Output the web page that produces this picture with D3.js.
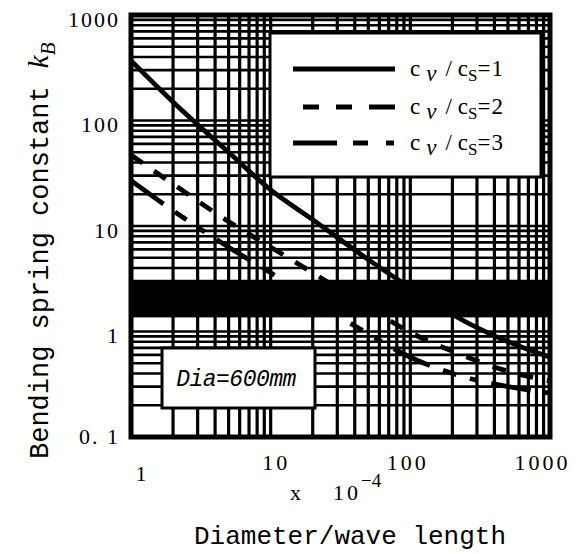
<!DOCTYPE html>
<html>
<head>
<meta charset="utf-8">
<script src="https://cdn.jsdelivr.net/npm/d3@7"></script>
<style>
  html, body { margin: 0; padding: 0; background: #fff; }
  svg { display: block; }
</style>
</head>
<body>
<svg id="chart" width="588" height="554"></svg>
<script>
// Diameter / wave length (x 10^-4) sampled along each curve
const ratioX = [1, 2, 5, 10, 20, 50, 100, 200, 500, 1000];

// Bending spring constant k_B for each velocity ratio cv/cs
const kB_ratio1 = [370, 150, 50, 22, 11.5, 4.8, 2.6, 1.45, 0.8, 0.57];
const kB_ratio2 = [47, 25, 11, 6.3, 3.6, 1.7, 0.98, 0.65, 0.42, 0.34];
const kB_ratio3 = [27, 14, 6.3, 3.6, 2.0, 0.95, 0.57, 0.4, 0.3, 0.26];

const seriesNames = ["1", "2", "3"];

// Axis ticks
const xTickValues = [1, 10, 100, 1000];
const xTickLabels = ["1", "10", "100", "1000"];
const yTickValues = [0.1, 1, 10, 100, 1000];
const yTickLabels = ["0. 1", "1", "10", "100", "1000"];

// Densely ruled band of the grid (k_B range)
const denseBand = [1.36, 2.95];

const svg = d3.select("#chart");
const plot = { left: 131, right: 550, top: 15, bottom: 437 };

const x = d3.scaleLog().domain([1, 1000]).range([plot.left, plot.right]);
const y = d3.scaleLog().domain([0.1, 1000]).range([plot.bottom, plot.top]);

svg.append("defs").append("clipPath").attr("id", "plotClip")
  .append("rect")
  .attr("x", plot.left).attr("y", plot.top)
  .attr("width", plot.right - plot.left).attr("height", plot.bottom - plot.top);

const body = svg.append("g").attr("clip-path", "url(#plotClip)");

// Log grid: every minor decade step
const gx = x.ticks().filter(v => v > 1 && v < 1000);
const gy = y.ticks().filter(v => v > 0.1 && v < 1000);

body.append("g").selectAll("line").data(gx).join("line")
  .attr("x1", d => x(d)).attr("x2", d => x(d))
  .attr("y1", plot.top).attr("y2", plot.bottom)
  .attr("stroke", "#000").attr("stroke-width", 3.2);

body.append("g").selectAll("line").data(gy).join("line")
  .attr("x1", plot.left).attr("x2", plot.right)
  .attr("y1", d => y(d)).attr("y2", d => y(d))
  .attr("stroke", "#000").attr("stroke-width", 2.6);

body.append("rect")
  .attr("x", plot.left).attr("width", plot.right - plot.left)
  .attr("y", y(denseBand[1])).attr("height", y(denseBand[0]) - y(denseBand[1]))
  .attr("fill", "#000");

// Curves
const line = d3.line()
  .x(d => x(d[0])).y(d => y(d[1]))
  .curve(d3.curveMonotoneX);

const series = [
  { name: seriesNames[0], values: kB_ratio1, dash: null },
  { name: seriesNames[1], values: kB_ratio2, dash: "14,14" },
  { name: seriesNames[2], values: kB_ratio3, dash: "40,14,14,14,8,14" }
];

series.forEach(s => {
  body.append("path")
    .datum(ratioX.map((v, i) => [v, s.values[i]]))
    .attr("d", line)
    .attr("fill", "none")
    .attr("stroke", "#000")
    .attr("stroke-width", 4.8)
    .attr("stroke-dasharray", s.dash);
});

// Frame
svg.append("rect")
  .attr("x", plot.left).attr("y", plot.top)
  .attr("width", plot.right - plot.left).attr("height", plot.bottom - plot.top)
  .attr("fill", "none").attr("stroke", "#000").attr("stroke-width", 5);

// Legend box
const legend = svg.append("g");
legend.append("rect")
  .attr("x", 270).attr("y", 33).attr("width", 271).attr("height", 144)
  .attr("fill", "#fff").attr("stroke", "#000").attr("stroke-width", 3);

const legendRows = [69, 107, 143];
const legendDash = [null, "0,10,16,17,16,17,16", "44,16,15,18,8"];
series.forEach((s, i) => {
  const yy = legendRows[i];
  legend.append("line")
    .attr("x1", 293).attr("x2", 395).attr("y1", yy).attr("y2", yy)
    .attr("stroke", "#000").attr("stroke-width", 4.8)
    .attr("stroke-dasharray", legendDash[i]);
  const t = legend.append("text")
    .attr("x", 410).attr("y", yy + 7)
    .attr("font-family", "'Liberation Serif', serif")
    .attr("font-size", 23)
    .attr("fill", "#000");
  t.append("tspan").text("c");
  t.append("tspan").attr("dx", 6).attr("dy", 5).attr("font-style", "italic").text("ν");
  t.append("tspan").attr("dx", 9).attr("dy", -5).text("/");
  t.append("tspan").attr("dx", 6).text("c");
  t.append("tspan").attr("dy", 5).attr("font-size", 17).text("S");
  t.append("tspan").attr("dy", -5).attr("letter-spacing", 1).text("=" + s.name);
});

// Diameter annotation box
const note = svg.append("g");
note.append("rect")
  .attr("x", 162).attr("y", 348).attr("width", 153).attr("height", 60)
  .attr("fill", "#fff").attr("stroke", "#000").attr("stroke-width", 3);
note.append("text")
  .attr("x", 236).attr("y", 386)
  .attr("text-anchor", "middle")
  .attr("font-family", "'Liberation Mono', monospace")
  .attr("font-style", "italic")
  .attr("font-size", 23)
  .attr("letter-spacing", -0.5)
  .text("Dia=600mm");

// Axes
const xAxis = d3.axisBottom(x).tickValues(xTickValues)
  .tickFormat((d, i) => xTickLabels[i]).tickSize(0).tickPadding(0);
const xg = svg.append("g").attr("transform", `translate(0,${plot.bottom})`).call(xAxis);
xg.select(".domain").remove();
xg.selectAll("text")
  .attr("font-family", "'Liberation Serif', serif")
  .attr("font-size", 22)
  .attr("letter-spacing", 3)
  .attr("fill", "#000")
  .attr("dy", (d, i) => i === 0 ? 44 : 33)
  .attr("dx", (d, i) => [11, 5, -3, -8][i]);

const yAxis = d3.axisLeft(y).tickValues(yTickValues)
  .tickFormat((d, i) => yTickLabels[i]).tickSize(0).tickPadding(11);
const yg = svg.append("g").attr("transform", `translate(${plot.left},0)`).call(yAxis);
yg.select(".domain").remove();
yg.selectAll("text")
  .attr("font-family", "'Liberation Serif', serif")
  .attr("font-size", 22)
  .attr("letter-spacing", 2)
  .attr("fill", "#000")
  .attr("dy", (d, i) => i === 0 ? "0.3em" : "0.5em");

// Axis titles
const scaleNote = svg.append("text")
  .attr("font-family", "'Liberation Serif', serif")
  .attr("font-size", 22)
  .attr("fill", "#000")
  .attr("x", 290).attr("y", 500);
scaleNote.append("tspan").text("x");
scaleNote.append("tspan").attr("x", 333).attr("letter-spacing", 3).text("10");
scaleNote.append("tspan").attr("dy", -13).attr("font-size", 19).text("−4");

svg.append("text")
  .attr("x", 350).attr("y", 544)
  .attr("text-anchor", "middle")
  .attr("font-family", "'Liberation Mono', monospace")
  .attr("font-size", 26)
  .attr("fill", "#000")
  .text("Diameter/wave length");

const ylab = svg.append("text")
  .attr("transform", "translate(48,459) rotate(-90)")
  .attr("font-family", "'Liberation Mono', monospace")
  .attr("font-size", 27)
  .attr("fill", "#000");
ylab.append("tspan").text("Bending spring constant ");
ylab.append("tspan").attr("font-family", "'Liberation Serif', serif")
  .attr("font-style", "italic").attr("font-size", 29).attr("dx", 2).text("k");
ylab.append("tspan").attr("font-family", "'Liberation Serif', serif")
  .attr("font-style", "italic").attr("font-size", 21).attr("dy", 7).text("B");
</script>
</body>
</html>
